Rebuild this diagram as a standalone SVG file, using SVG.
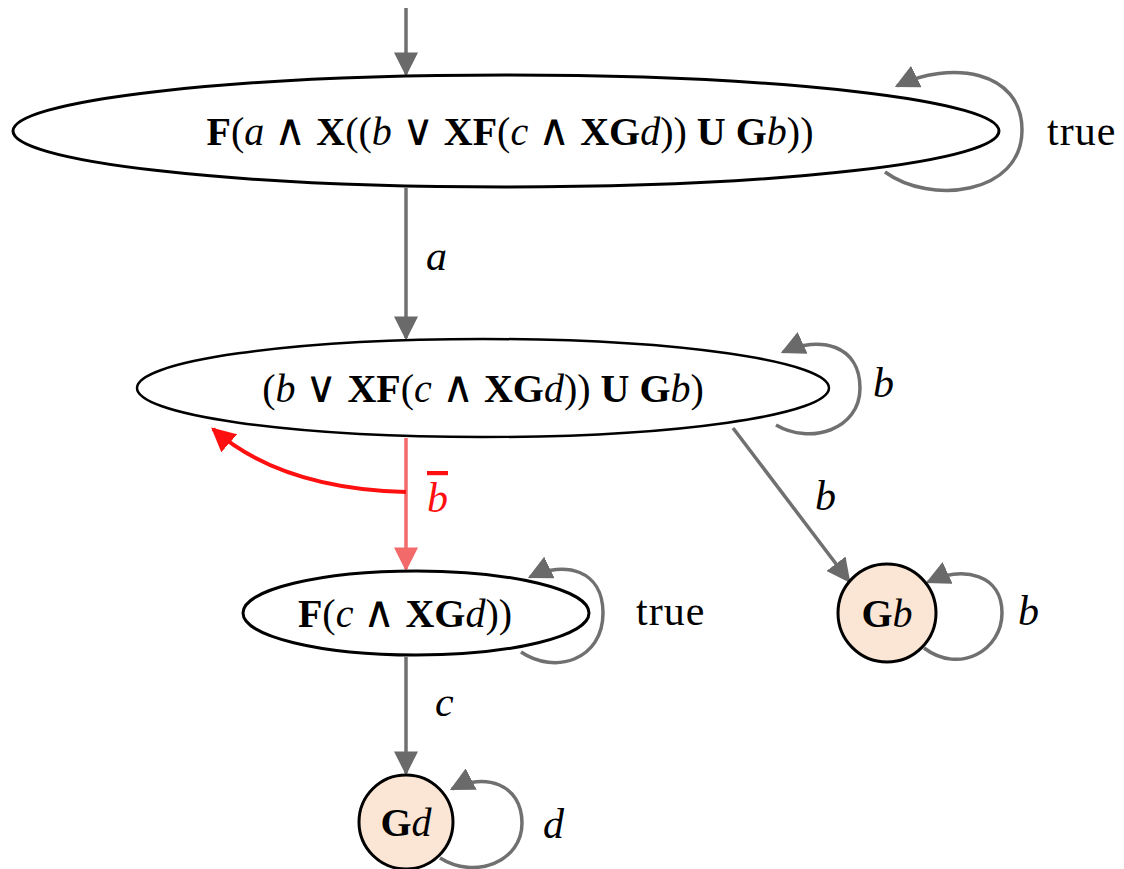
<svg xmlns="http://www.w3.org/2000/svg" width="1124" height="869" viewBox="0 0 1124 869">
<style>
.node{fill:#fff;stroke:#000;stroke-width:3}
.acc{fill:#fbe6d5;stroke:#000;stroke-width:3}
.t{font-family:"Liberation Serif","DejaVu Serif",serif;font-size:40px;fill:#000}
.b{font-weight:bold;font-style:normal}
.i{font-style:italic}
.op{font-family:"DejaVu Sans",sans-serif;font-weight:200;font-size:44px}
.e{fill:none;stroke:#707070;stroke-width:3.5}
.r{fill:none;stroke:#ff1010;stroke-width:4}
.rl{fill:none;stroke:#f26a6a;stroke-width:3.5}
.lbl{font-family:"Liberation Serif","DejaVu Serif",serif;font-size:42px;fill:#000}
</style>
<defs>
<marker id="ah" viewBox="0 0 10 10" refX="9" refY="5" markerWidth="24" markerHeight="24" markerUnits="userSpaceOnUse" orient="auto"><path d="M0,0 L10,5 L0,10 z" fill="#6a6a6a"/></marker>
<marker id="ahr" viewBox="0 0 10 10" refX="9" refY="5" markerWidth="24" markerHeight="24" markerUnits="userSpaceOnUse" orient="auto"><path d="M0,0 L10,5 L0,10 z" fill="#ff1010"/></marker>
<marker id="ahp" viewBox="0 0 10 10" refX="9" refY="5" markerWidth="24" markerHeight="24" markerUnits="userSpaceOnUse" orient="auto"><path d="M0,0 L10,5 L0,10 z" fill="#f26a6a"/></marker>
</defs>

<g id="connectors">
<line class="e" x1="406" y1="8" x2="406" y2="74" marker-end="url(#ah)"/>
<path class="e" d="M885,172 C930,205 1022,195 1022,130 C1022,70 950,60 897,86" marker-end="url(#ah)"/>
<line class="e" x1="406" y1="188" x2="406" y2="338" marker-end="url(#ah)"/>
<path class="e" d="M776,425 C810,445 860,430 860,388 C860,345 820,335 783,352" marker-end="url(#ah)"/>
<line class="e" x1="733" y1="428" x2="849" y2="581" marker-end="url(#ah)"/>
<path class="e" d="M924,648 C960,675 1002,650 1002,613 C1002,575 965,565 928,582" marker-end="url(#ah)"/>
<line class="rl" x1="406" y1="438" x2="406" y2="569" marker-end="url(#ahp)"/>
<path class="r" d="M406,492 C330,490 262,472 213,429" marker-end="url(#ahr)"/>
<path class="e" d="M521,652 C555,675 603,660 603,613 C603,570 565,560 530,577" marker-end="url(#ah)"/>
<line class="e" x1="406" y1="657" x2="406" y2="773" marker-end="url(#ah)"/>
<path class="e" d="M440,858 C475,880 522,862 522,823 C522,784 485,772 452,789" marker-end="url(#ah)"/>
<text class="lbl" x="1047" y="145" style="letter-spacing:1px">true</text>
<text class="lbl i" x="426" y="270">a</text>
<text class="lbl i" x="873" y="397">b</text>
<text class="lbl i" x="815" y="510">b</text>
<text class="lbl i" x="1018" y="625">b</text>
<text class="lbl i" x="427" y="512" style="fill:#ff1010;text-decoration:overline">b</text>
<text class="lbl" x="636" y="625" style="letter-spacing:1px">true</text>
<text class="lbl i" x="435" y="716">c</text>
<text class="lbl i" x="543" y="838">d</text>
</g>

<g id="n0">
<ellipse class="node" cx="506" cy="131" rx="493" ry="56"/>
<text class="t" x="510" y="145" text-anchor="middle"><tspan class="b">F</tspan>(<tspan class="i">a</tspan> <tspan class="op">∧</tspan> <tspan class="b">X</tspan>((<tspan class="i">b</tspan> <tspan class="op">∨</tspan> <tspan class="b">XF</tspan>(<tspan class="i">c</tspan> <tspan class="op">∧</tspan> <tspan class="b">XG</tspan><tspan class="i">d</tspan>)) <tspan class="b">U</tspan> <tspan class="b">G</tspan><tspan class="i">b</tspan>))</text>
</g>
<g id="n1">
<ellipse class="node" cx="483" cy="388" rx="346" ry="49" style="stroke-width:2.5"/>
<text class="t" x="483" y="402" text-anchor="middle">(<tspan class="i">b</tspan> <tspan class="op">∨</tspan> <tspan class="b">XF</tspan>(<tspan class="i">c</tspan> <tspan class="op">∧</tspan> <tspan class="b">XG</tspan><tspan class="i">d</tspan>)) <tspan class="b">U</tspan> <tspan class="b">G</tspan><tspan class="i">b</tspan>)</text>
</g>
<g id="n2">
<ellipse class="node" cx="416" cy="613" rx="173" ry="42"/>
<text class="t" x="405" y="627" text-anchor="middle"><tspan class="b">F</tspan>(<tspan class="i">c</tspan> <tspan class="op">∧</tspan> <tspan class="b">XG</tspan><tspan class="i">d</tspan>))</text>
</g>
<g id="n3">
<circle class="acc" cx="887" cy="613" r="49"/>
<text class="t" x="887" y="627" text-anchor="middle"><tspan class="b">G</tspan><tspan class="i">b</tspan></text>
</g>
<g id="n4">
<circle class="acc" cx="406" cy="822" r="47"/>
<text class="t" x="406" y="836" text-anchor="middle"><tspan class="b">G</tspan><tspan class="i">d</tspan></text>
</g>
</svg>
